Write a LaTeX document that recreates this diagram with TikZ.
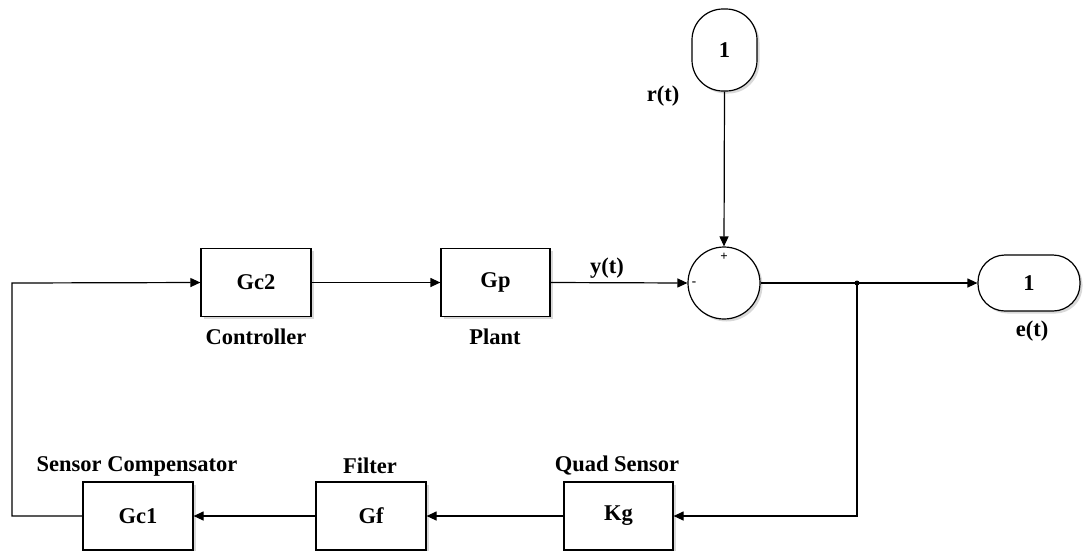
\documentclass[tikz,border=0pt]{standalone}
\usepackage{fontspec}
\setmainfont{Liberation Serif}
\usetikzlibrary{arrows.meta,shadows}
\begin{document}
\begin{tikzpicture}[x=1pt,y=-1pt,
  line width=1.2pt,
  font=\fontsize{22.5}{26}\selectfont\bfseries,
  blk/.style={draw, line width=1.2pt, fill=white, minimum width=110pt, minimum height=68pt, inner sep=0pt,
     drop shadow={opacity=0.3, shadow xshift=2.5pt, shadow yshift=-2.5pt}},
  pill/.style={draw, line width=1.2pt, fill=white, inner sep=0pt,
     drop shadow={opacity=0.3, shadow xshift=2.5pt, shadow yshift=-2.5pt}},
  lbl/.style={inner sep=0pt},
  arr/.style={-{Triangle[length=10pt,width=9pt]}},
  sig/.style={font=\fontsize{13}{15}\selectfont\bfseries, inner sep=0pt}
]
\useasboundingbox (0,0) rectangle (1087,550);
% blocks
\node[blk] (gc2) at (256,282.5) {Gc2};
\node[blk, minimum width=109pt] (gp) at (495.5,282.5) {Gp};
\node[blk, minimum width=109pt] (kg) at (618.5,516) {Kg};
\node[blk] (gf) at (371,516) {Gf};
\node[blk] (gc1) at (138,516) {Gc1};
% sum
\node[draw, circle, line width=1.2pt, fill=white, minimum size=72pt, inner sep=0pt,
  drop shadow={opacity=0.3, shadow xshift=2.5pt, shadow yshift=-2.5pt}] (sum) at (724,283) {};
\node[sig] (plus) at (724,257) {+};
\node[sig] (minus) at (694,284) {-};
% sources / sinks
\node[pill, minimum width=65pt, minimum height=82pt, rounded corners=31pt] (rin) at (724.5,50) {1};
\node[pill, minimum width=102pt, minimum height=56pt, rounded corners=27pt] (eout) at (1029,283) {1};
% labels
\node[lbl] (lctrl) at (256,337) {Controller};
\node[lbl] (lplant) at (495,337) {Plant};
\node[lbl] (ly) at (607,268) {y(t)};
\node[lbl] (lr) at (663,96) {r(t)};
\node[lbl] (le) at (1032,331) {e(t)};
\node[lbl] (lqs) at (617,466) {Quad Sensor};
\node[lbl] (lf) at (370,466) {Filter};
\node[lbl] (lsc) at (137,466) {Sensor Compensator};
% connectors
\coordinate (br) at (857,283);
\coordinate (lc) at (12,283);
\draw[arr] (gc2.east) -- (gp.west);
\draw[arr] (gp.east) -- (sum.west);
\draw[arr] (rin.south) -- (sum.north);
\draw (sum.east) -- (br);
\draw[arr] (br) -- (eout.west);
\fill (br) circle (2.5pt);
\draw[arr] (br) |- (kg.east);
\draw[arr] (kg.west) -- (gf.east);
\draw[arr] (gf.west) -- (gc1.east);
\draw[arr] (gc1.west) -| (lc) -- (gc2.west);
\end{tikzpicture}
\end{document}
